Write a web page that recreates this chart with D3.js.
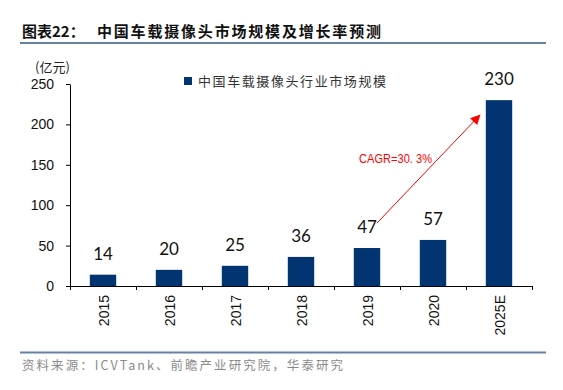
<!DOCTYPE html>
<html>
<head>
<meta charset="utf-8">
<script src="https://cdn.jsdelivr.net/npm/d3@7"></script>
<style>
  body { margin: 0; background: #fff; }
  svg { display: block; }
</style>
</head>
<body>
<div id="chart"></div>
<script>
// --- Data ---
const years = ["2015", "2016", "2017", "2018", "2019", "2020", "2025E"];
const marketSize = [14, 20, 25, 36, 47, 57, 230];
const yTicks = [0, 50, 100, 150, 200, 250];
const seriesName = "中国车载摄像头行业市场规模";
const titleLabel = "图表22：";
const titleText = "中国车载摄像头市场规模及增长率预测";
const sourceText = "资料来源：ICVTank、前瞻产业研究院，华泰研究";
const unitText = "(亿元)";
const cagrText = "CAGR=30. 3%";

// --- Setup ---
const width = 563, height = 390;
const svg = d3.select('#chart').append('svg').attr('width', width).attr('height', height);
const barColor = '#023471';
const ruleColor = '#6382a4';

// title + rules
svg.append('text')
  .attr('x', 22).attr('y', 37)
  .attr('font-family', '"Noto Sans CJK SC", sans-serif')
  .attr('font-weight', 'bold').attr('font-size', 15).attr('fill', '#111')
  .text(titleLabel);
svg.append('text')
  .attr('x', 97).attr('y', 37)
  .attr('font-family', '"Noto Sans CJK SC", sans-serif')
  .attr('font-weight', 'bold').attr('font-size', 15).attr('fill', '#111')
  .attr('textLength', 284).attr('lengthAdjust', 'spacing')
  .text(titleText);
svg.append('line').attr('x1', 20).attr('x2', 546).attr('y1', 43).attr('y2', 43)
  .attr('stroke', ruleColor).attr('stroke-width', 2);
svg.append('line').attr('x1', 20).attr('x2', 546).attr('y1', 352.5).attr('y2', 352.5)
  .attr('stroke', ruleColor).attr('stroke-width', 2);
svg.append('text')
  .attr('x', 22).attr('y', 370)
  .attr('font-family', '"Noto Sans CJK SC", sans-serif')
  .attr('font-size', 12.5).attr('fill', '#8a8a8a')
  .attr('textLength', 321).attr('lengthAdjust', 'spacing')
  .text(sourceText);

// --- Scales ---
const x0 = 70, x1 = 532;
const x = d3.scaleBand().domain(years).range([x0, x1]).paddingInner(0.6).paddingOuter(0.3);
const xEdge = d3.scaleLinear().domain([0, years.length]).range([x0, x1]);
const y = d3.scaleLinear().domain([0, 250]).range([286, 84]);

// y axis
const yAxis = svg.append('g')
  .attr('transform', `translate(${x0},0)`)
  .call(d3.axisLeft(y).tickValues(yTicks).tickSize(4).tickPadding(12).tickSizeOuter(0));
yAxis.select('.domain').attr('stroke', '#000');
yAxis.selectAll('.tick line').attr('stroke', '#000');
yAxis.selectAll('.tick text')
  .attr('font-family', '"Liberation Sans", Arial, sans-serif')
  .attr('font-size', 14).attr('fill', '#111');

// x axis (ticks on category edges)
const xAxis = svg.append('g')
  .attr('transform', `translate(0,${y(0)})`)
  .call(d3.axisBottom(xEdge).tickValues(d3.range(years.length + 1)).tickSize(4).tickFormat('').tickSizeOuter(0));
xAxis.select('.domain').attr('stroke', '#000');
xAxis.selectAll('.tick line').attr('stroke', '#000');

// rotated year labels
svg.append('g').selectAll('text')
  .data(years)
  .join('text')
  .attr('transform', d => `translate(${x(d) + x.bandwidth() / 2 + 6},295) rotate(-90)`)
  .attr('text-anchor', 'end')
  .attr('font-family', '"Liberation Sans", Arial, sans-serif')
  .attr('font-size', 14).attr('fill', '#111')
  .text(d => d);

// unit label
svg.append('text')
  .attr('x', 35).attr('y', 72)
  .attr('font-family', '"Noto Sans CJK SC", sans-serif')
  .attr('font-size', 13).attr('fill', '#222')
  .text(unitText);

// --- Bars ---
svg.append('g').selectAll('rect')
  .data(marketSize)
  .join('rect')
  .attr('x', (d, i) => x(years[i]))
  .attr('y', d => y(d))
  .attr('width', x.bandwidth())
  .attr('height', d => y(0) - y(d))
  .attr('fill', barColor);

// value labels
svg.append('g').selectAll('text')
  .data(marketSize)
  .join('text')
  .attr('x', (d, i) => x(years[i]) + x.bandwidth() / 2)
  .attr('y', d => y(d) - 15)
  .attr('text-anchor', 'middle')
  .attr('font-family', 'Lato, "Open Sans", sans-serif')
  .attr('font-size', 17).attr('fill', '#111')
  .text(d => d);

// legend
svg.append('rect').attr('x', 184).attr('y', 77).attr('width', 8).attr('height', 8).attr('fill', barColor);
svg.append('text')
  .attr('x', 198).attr('y', 86)
  .attr('font-family', '"Noto Sans CJK SC", sans-serif')
  .attr('font-size', 13).attr('fill', '#333')
  .attr('textLength', 188).attr('lengthAdjust', 'spacing')
  .text(seriesName);

// --- CAGR arrow ---
const defs = svg.append('defs');
defs.append('marker')
  .attr('id', 'arrow').attr('viewBox', '0 0 10 10')
  .attr('refX', 9).attr('refY', 5)
  .attr('markerWidth', 12).attr('markerHeight', 10)
  .attr('markerUnits', 'userSpaceOnUse')
  .attr('orient', 'auto')
  .append('path').attr('d', 'M0,0 L10,5 L0,10 z').attr('fill', '#ff0000');

const iFrom = years.indexOf("2019"), iTo = years.indexOf("2025E");
svg.append('line')
  .attr('x1', x(years[iFrom]) + x.bandwidth() / 2 + 10).attr('y1', y(marketSize[iFrom]) - 25)
  .attr('x2', x(years[iTo]) - 6).attr('y2', y(marketSize[iTo]) + 15)
  .attr('stroke', '#ff0000').attr('stroke-width', 1)
  .attr('marker-end', 'url(#arrow)');

svg.append('text')
  .attr('x', 359).attr('y', 163)
  .attr('font-family', '"Liberation Sans Narrow", "Liberation Sans", Arial, sans-serif')
  .attr('font-size', 13).attr('fill', '#ff0000')
  .attr('textLength', 73).attr('lengthAdjust', 'spacingAndGlyphs')
  .text(cagrText);
</script>
</body>
</html>
